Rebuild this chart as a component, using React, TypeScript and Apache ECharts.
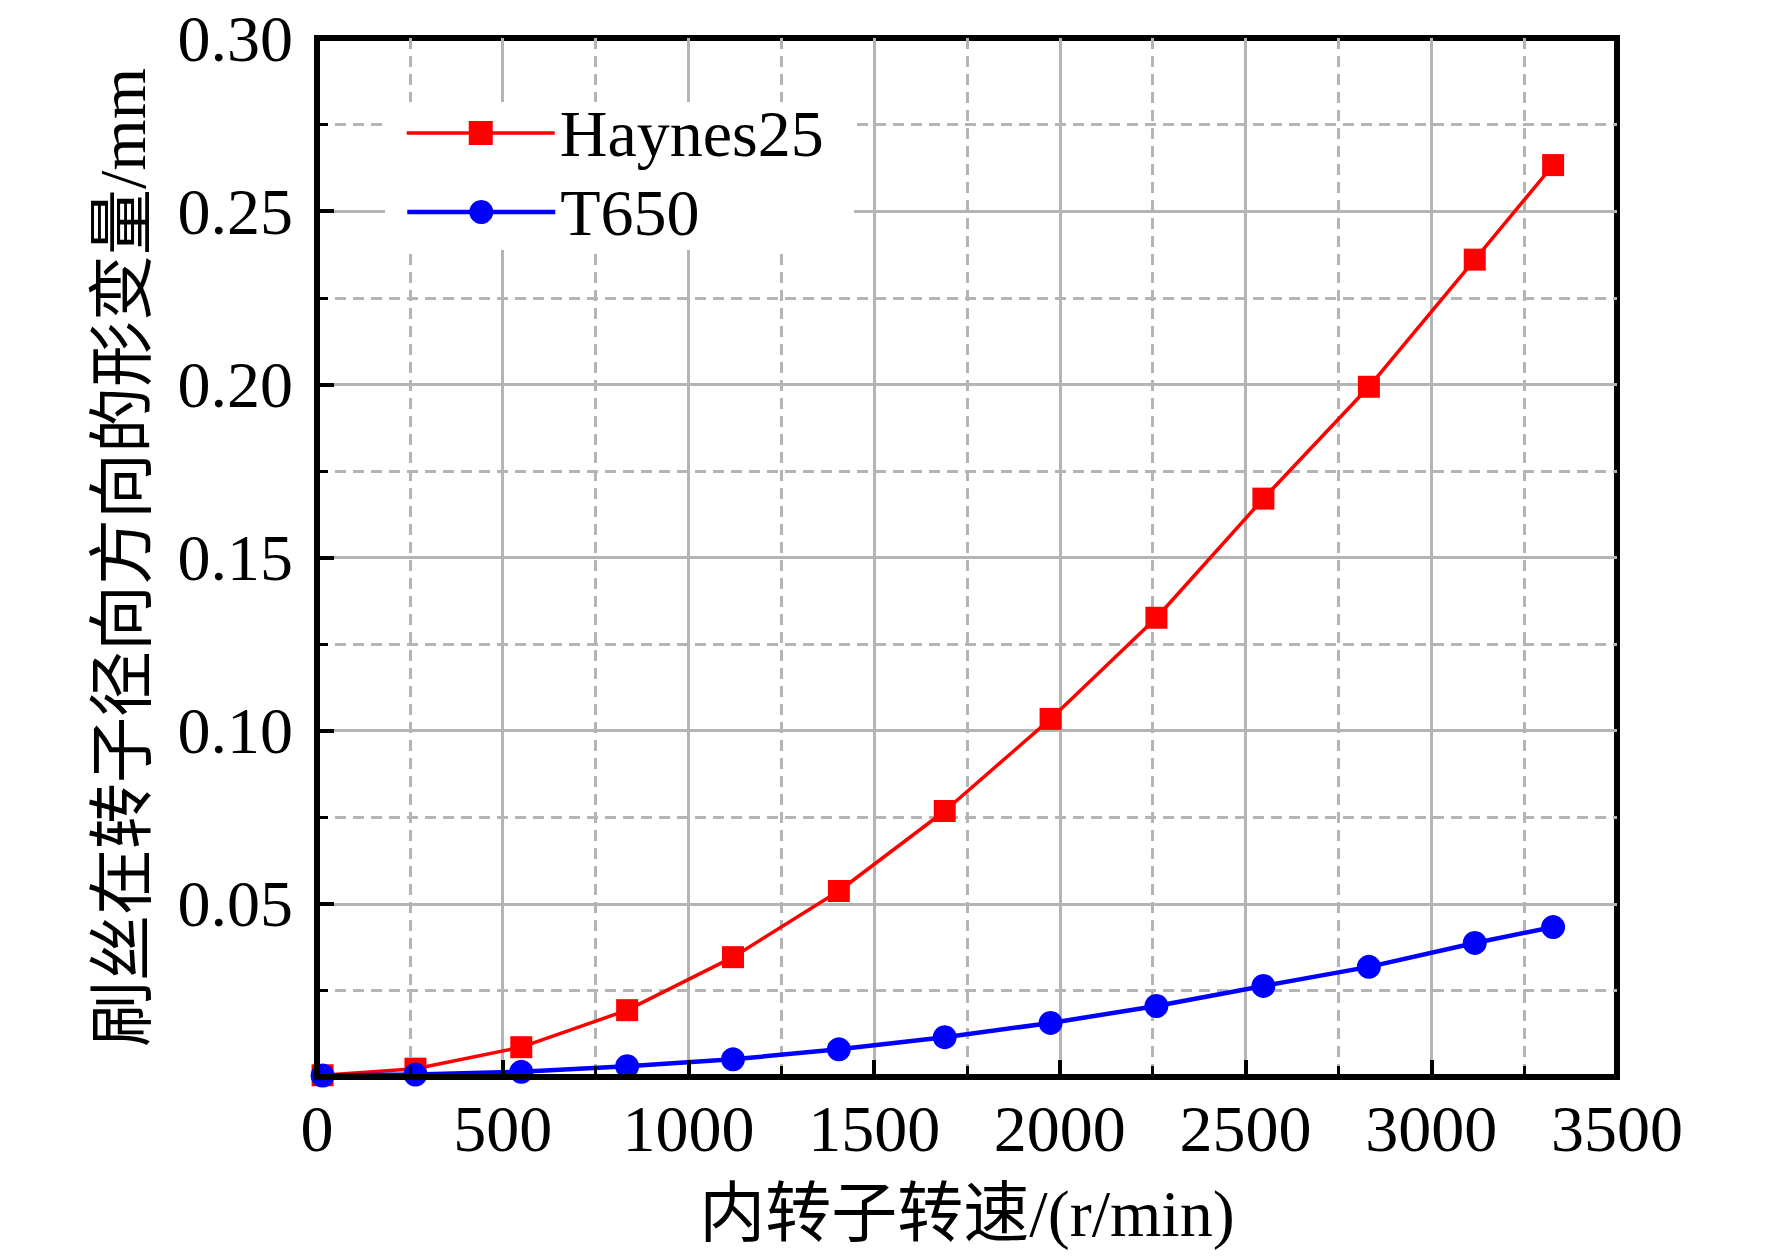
import React, { useEffect, useRef } from "react";
import * as echarts from "echarts";

const rpm = [15, 265, 550, 835, 1120, 1405, 1690, 1975, 2260, 2548, 2832, 3117, 3328];
const haynes25 = [0.0005, 0.0024, 0.0086, 0.0193, 0.0346, 0.0537, 0.0768, 0.1034, 0.1326, 0.167, 0.1993, 0.236, 0.2633];
const t650 = [0.0004, 0.0007, 0.0015, 0.0031, 0.0051, 0.008, 0.0115, 0.0156, 0.0205, 0.0263, 0.0318, 0.0387, 0.0433];
const seriesNames = ["Haynes25", "T650"];
const xName = "内转子转速/(r/min)";
const yName = "刷丝在转子径向方向的形变量/mm";

const FONT = "'Liberation Serif', 'Times New Roman', 'Noto Sans CJK SC', serif";
const GRIDC = "#b4b4b4";

export default function App() {
  const ref = useRef<HTMLDivElement>(null);
  useEffect(() => {
    if (!ref.current) return;
    const chart = echarts.init(ref.current, null, { renderer: "svg" });
    const xBase = { type: "value", min: 0, max: 3500, interval: 500, position: "bottom" };
    const yBase = { type: "value", min: 0, max: 0.3, interval: 0.05, position: "left" };
    const hidden = {
      axisLine: { show: false },
      axisTick: { show: false },
      axisLabel: { show: false },
    };
    const splitSolid = {
      show: true,
      showMinLine: false,
      showMaxLine: false,
      lineStyle: { color: GRIDC, width: 3, type: "solid" },
    };
    const splitDashed = { show: true, lineStyle: { color: GRIDC, width: 3, type: [11, 7] } };
    const legendCommon = {
      left: 405,
      padding: 0,
      itemWidth: 148,
      itemHeight: 30,
      textStyle: { fontSize: 66, fontFamily: FONT, color: "#000" },
    };
    const option = {
      animation: false,
      backgroundColor: "#fff",
      textStyle: { fontFamily: FONT },
      grid: {
        left: 317,
        right: 155,
        top: 38,
        bottom: 179,
        show: true,
        borderColor: "#000",
        borderWidth: 6,
        containLabel: false,
      },
      graphic: [
        {
          type: "rect",
          z: 1,
          shape: { x: 385, y: 102, width: 469, height: 148 },
          style: { fill: "#fff" },
        },
      ],
      legend: [
        { ...legendCommon, data: [seriesNames[0]], top: 100, lineStyle: { width: 3.5 } },
        { ...legendCommon, data: [seriesNames[1]], top: 179, lineStyle: { width: 4.5 } },
      ],
      xAxis: [
        {
          ...xBase,
          ...hidden,
          z: 0,
          splitLine: splitSolid,
          minorTick: { show: false, splitNumber: 2 },
          minorSplitLine: splitDashed,
        },
        {
          ...xBase,
          z: 5,
          name: xName,
          nameLocation: "middle",
          nameGap: 103,
          nameTextStyle: { fontSize: 66, fontFamily: FONT, color: "#000" },
          axisLine: { show: true, lineStyle: { color: "#000", width: 6 } },
          axisTick: { show: true, inside: true, length: 17, lineStyle: { color: "#000", width: 4 } },
          minorTick: { show: true, splitNumber: 2, length: 11, lineStyle: { color: "#000", width: 3 } },
          axisLabel: {
            show: true,
            fontSize: 66,
            fontFamily: FONT,
            color: "#000",
            margin: 18,
            formatter: (v: number) => String(v),
          },
          splitLine: { show: false },
        },
      ],
      yAxis: [
        {
          ...yBase,
          ...hidden,
          z: 0,
          splitLine: splitSolid,
          minorTick: { show: false, splitNumber: 2 },
          minorSplitLine: splitDashed,
        },
        {
          ...yBase,
          z: 5,
          name: yName,
          nameLocation: "middle",
          nameGap: 162,
          nameRotate: 90,
          nameTextStyle: { fontSize: 66, fontFamily: FONT, color: "#000" },
          axisLine: { show: true, lineStyle: { color: "#000", width: 6 } },
          axisTick: { show: true, inside: true, length: 17, lineStyle: { color: "#000", width: 4 } },
          minorTick: { show: true, splitNumber: 2, length: 11, lineStyle: { color: "#000", width: 3 } },
          axisLabel: {
            show: true,
            fontSize: 66,
            fontFamily: FONT,
            color: "#000",
            margin: 24,
            formatter: (v: number) => (v === 0 ? "" : v.toFixed(2)),
          },
          splitLine: { show: false },
        },
      ],
      series: [
        {
          name: seriesNames[0],
          type: "line",
          xAxisIndex: 0,
          yAxisIndex: 0,
          z: 2,
          data: rpm.map((x, i) => [x, haynes25[i]]),
          symbol: "rect",
          symbolSize: 22,
          color: "#ff0000",
          itemStyle: { color: "#ff0000" },
          lineStyle: { color: "#ff0000", width: 3.5 },
        },
        {
          name: seriesNames[1],
          type: "line",
          xAxisIndex: 0,
          yAxisIndex: 0,
          z: 3,
          data: rpm.map((x, i) => [x, t650[i]]),
          symbol: "circle",
          symbolSize: 24,
          color: "#0000ff",
          itemStyle: { color: "#0000ff" },
          lineStyle: { color: "#0000ff", width: 4.5 },
        },
      ],
    };
    chart.setOption(option as any);
    return () => chart.dispose();
  }, []);
  return (
    <div
      ref={ref}
      style={{ position: "absolute", left: 0, top: 0, width: 1772, height: 1256, background: "#fff" }}
    />
  );
}
